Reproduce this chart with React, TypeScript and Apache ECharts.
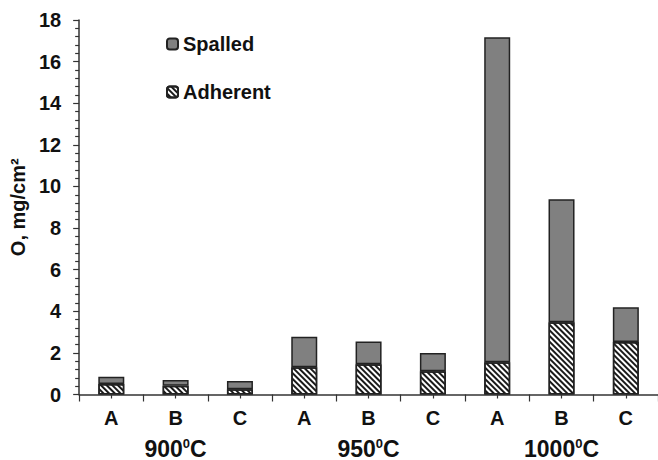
import React, { useEffect, useRef } from "react";
import * as echarts from "echarts";

// Oxygen uptake per sample and temperature (mg/cm²)
const samples = ["A", "B", "C", "A", "B", "C", "A", "B", "C"];
const temperatures = ["900", "950", "1000"];
const adherent = [0.51, 0.42, 0.25, 1.31, 1.45, 1.12, 1.55, 3.47, 2.52];
const spalled = [0.34, 0.28, 0.4, 1.47, 1.1, 0.88, 15.62, 5.91, 1.67];
const yTicks = { min: 0, max: 18, interval: 2 };

const FONT = "'Liberation Sans', Arial, sans-serif";
const INK = "#111";

export default function App() {
  const ref = useRef<HTMLDivElement>(null);

  useEffect(() => {
    if (!ref.current) return;
    document.body.style.margin = "0";
    document.body.style.overflow = "hidden";
    const chart = echarts.init(ref.current, null, { renderer: "svg" });

    // fine diagonal hatching for the adherent oxide
    const hatch = {
      symbol: "rect",
      symbolSize: 1,
      color: "#1a1a1a",
      backgroundColor: "#ffffff",
      dashArrayX: [1, 0],
      dashArrayY: [1.2, 1.8],
      rotation: Math.PI / 4,
    };

    const baseX = {
      type: "category" as const,
      data: samples,
      position: "bottom" as const,
      boundaryGap: true,
    };

    chart.setOption({
      animation: false,
      backgroundColor: "#fff",
      textStyle: { fontFamily: FONT },
      grid: { left: 75.5, top: 20, width: 585, height: 375.5 },
      legend: {
        orient: "vertical",
        left: 161,
        top: 29,
        itemWidth: 11,
        itemHeight: 11,
        itemGap: 28,
        data: ["Spalled", "Adherent"],
        textStyle: { fontSize: 20, fontWeight: "bold", color: INK, fontFamily: FONT },
        selectedMode: false,
      },
      xAxis: [
        {
          ...baseX,
          axisLine: { show: true, lineStyle: { color: "#333", width: 1.5 } },
          axisTick: { show: true, length: 7, lineStyle: { color: "#333", width: 1.2 } },
          axisLabel: { fontSize: 20, fontWeight: "bold", color: INK, margin: 13, fontFamily: FONT },
        },
        {
          ...baseX,
          axisLine: { show: false },
          axisTick: { show: true, alignWithLabel: true, length: 4, lineStyle: { color: "#333", width: 1.2 } },
          axisLabel: { show: false },
        },
        {
          type: "category",
          data: temperatures,
          position: "bottom",
          axisLine: { show: false },
          axisTick: { show: false },
          axisLabel: {
            margin: 42,
            formatter: (v: string) => `{a|${v}}{s|0}{a|C}`,
            rich: {
              a: { fontSize: 23, fontWeight: "bold", color: INK, fontFamily: FONT, lineHeight: 24 },
              s: { fontSize: 13, fontWeight: "bold", color: INK, fontFamily: FONT, lineHeight: 24, verticalAlign: "top" },
            },
          },
        },
      ],
      yAxis: {
        type: "value",
        ...yTicks,
        name: "O, mg/cm²",
        nameLocation: "middle",
        nameGap: 42,
        nameTextStyle: { fontSize: 20, fontWeight: "bold", color: INK, fontFamily: FONT },
        axisLine: { show: true, lineStyle: { color: "#333", width: 1.5 } },
        axisTick: { show: true, length: 6, lineStyle: { color: "#333", width: 1.2 } },
        minorTick: { show: true, splitNumber: 5, length: 4, lineStyle: { color: "#333", width: 1.2 } },
        splitLine: { show: false },
        axisLabel: { fontSize: 20, fontWeight: "bold", color: INK, margin: 18, fontFamily: FONT },
      },
      series: [
        {
          name: "Adherent",
          type: "bar",
          stack: "oxide",
          xAxisIndex: 0,
          barWidth: 26,
          data: adherent,
          itemStyle: { color: "#ffffff", borderColor: "#222", borderWidth: 1.5, decal: hatch },
        },
        {
          name: "Spalled",
          type: "bar",
          stack: "oxide",
          xAxisIndex: 0,
          barWidth: 26,
          data: spalled,
          itemStyle: { color: "#808080", borderColor: "#222", borderWidth: 1.5 },
        },
      ],
    });

    return () => chart.dispose();
  }, []);

  return <div ref={ref} style={{ width: 658, height: 460, overflow: "hidden" }} />;
}
